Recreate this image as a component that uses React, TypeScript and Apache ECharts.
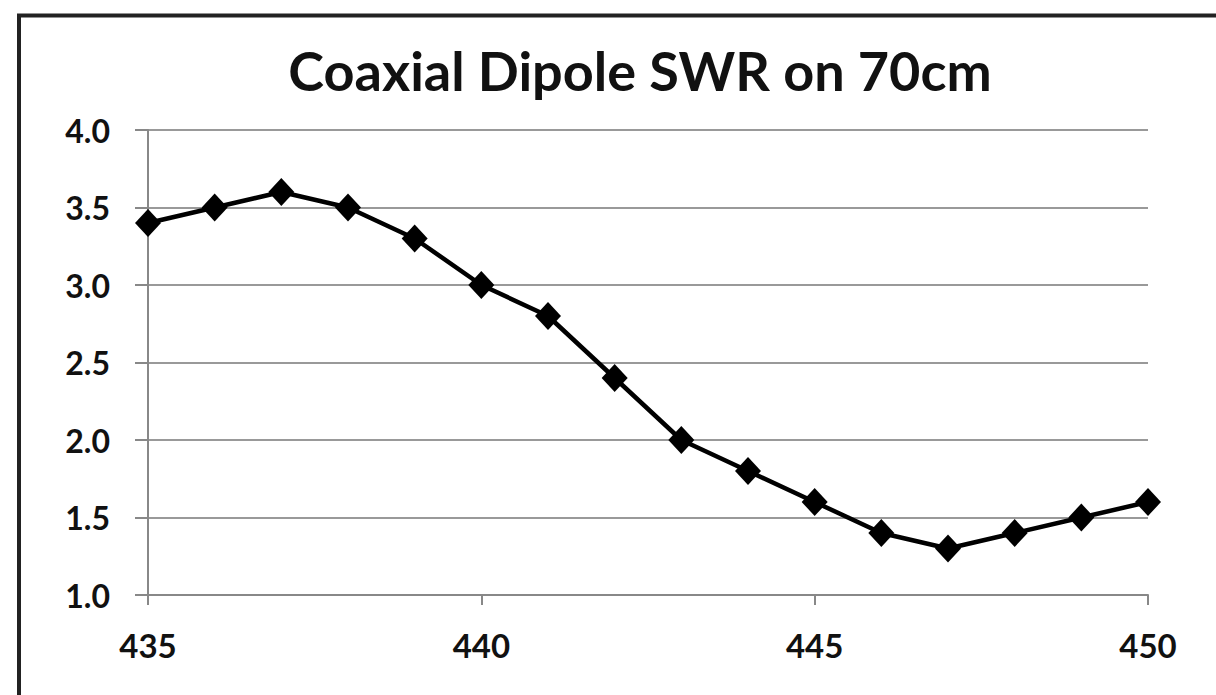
import React, { useEffect, useRef } from "react";
import * as echarts from "echarts";

const TITLE = "Coaxial Dipole SWR on 70cm";
const frequencies = [435, 436, 437, 438, 439, 440, 441, 442, 443, 444, 445, 446, 447, 448, 449, 450];
const swrValues = [3.4, 3.5, 3.6, 3.5, 3.3, 3.0, 2.8, 2.4, 2.0, 1.8, 1.6, 1.4, 1.3, 1.4, 1.5, 1.6];

export default function App() {
  const ref = useRef<HTMLDivElement>(null);
  useEffect(() => {
    if (!ref.current) return;
    const chart = echarts.init(ref.current, undefined, { renderer: "svg" });
    const data = frequencies.map((f, i) => [f, swrValues[i]]);
    chart.setOption({
      animation: false,
      backgroundColor: "#ffffff",
      title: {
        text: TITLE,
        left: 635,
        textAlign: "center",
        top: 38,
        textStyle: { fontFamily: "Lato", fontWeight: "bold", fontSize: 54, color: "#111" },
      },
      graphic: [
        {
          type: "rect",
          shape: { x: 19, y: 15.5, width: 1400, height: 900 },
          style: { fill: "none", stroke: "#222", lineWidth: 4 },
          silent: true,
        },
      ],
      grid: { left: 148, right: 68, top: 130, bottom: 100 },
      xAxis: {
        type: "value",
        min: 435,
        max: 450,
        interval: 5,
        axisLine: { show: true, lineStyle: { color: "#888", width: 2 } },
        axisTick: { show: true, length: 10, lineStyle: { color: "#888", width: 2 } },
        splitLine: { show: false },
        axisLabel: {
          margin: 33,
          fontFamily: "Lato",
          fontWeight: "bold",
          fontSize: 33,
          color: "#111",
        },
      },
      yAxis: {
        type: "value",
        min: 1,
        max: 4,
        interval: 0.5,
        axisLine: { show: true, lineStyle: { color: "#888", width: 2 } },
        axisTick: { show: true, length: 13, lineStyle: { color: "#888", width: 2 } },
        splitLine: { show: true, lineStyle: { color: "#999", width: 2 } },
        axisLabel: {
          margin: 38,
          fontFamily: "Lato",
          fontWeight: "bold",
          fontSize: 32,
          color: "#111",
          formatter: (v: number) => v.toFixed(1),
        },
      },
      series: [
        {
          type: "line",
          data,
          symbol: "diamond",
          symbolSize: [26, 28],
          lineStyle: { color: "#000", width: 4.5 },
          itemStyle: { color: "#000" },
        },
      ],
    });
    return () => chart.dispose();
  }, []);
  return (
    <div
      ref={ref}
      style={{ position: "fixed", left: 0, top: 0, width: 1216, height: 695 }}
    />
  );
}
